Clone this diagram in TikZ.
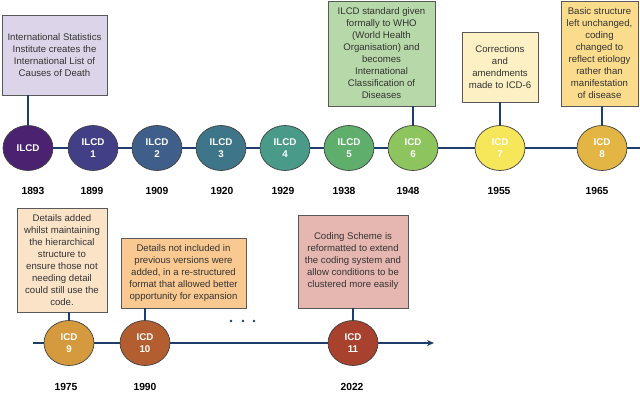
\documentclass[tikz,border=0pt]{standalone}
\usepackage{fontspec}
\setmainfont{Liberation Sans}
\usetikzlibrary{shapes.geometric,arrows.meta}
\definecolor{navy}{HTML}{1F3D6B}
\definecolor{cA}{HTML}{4A2270}
\definecolor{cB}{HTML}{433F86}
\definecolor{cC}{HTML}{3F5F8A}
\definecolor{cD}{HTML}{3E7588}
\definecolor{cE}{HTML}{4A9A8A}
\definecolor{cF}{HTML}{5FAE6B}
\definecolor{cG}{HTML}{8DC45E}
\definecolor{cH}{HTML}{F5E65A}
\definecolor{cI}{HTML}{E2B544}
\definecolor{cJ}{HTML}{D69A3E}
\definecolor{cK}{HTML}{B25E30}
\definecolor{cL}{HTML}{A8412E}
\definecolor{bA}{HTML}{DCD4E8}
\definecolor{bB}{HTML}{B7D8A8}
\definecolor{bC}{HTML}{FDF0C4}
\definecolor{bD}{HTML}{FBDC8C}
\definecolor{bE}{HTML}{FBE3C8}
\definecolor{bF}{HTML}{F9C991}
\definecolor{bG}{HTML}{E6B6B0}
\begin{document}
\begin{tikzpicture}[x=1pt,y=-1pt,
  circ/.style={ellipse,draw=black!75,line width=0.7pt,minimum width=50pt,minimum height=45pt,inner sep=0pt,
    text=white,align=center,font=\fontsize{9.8}{12}\selectfont\bfseries},
  infobox/.style={draw=black!65,line width=0.8pt,inner sep=0pt,align=center,text=black!80,
    font=\fontsize{9.6}{12}\selectfont},
  yr/.style={font=\fontsize{10.3}{12}\selectfont\bfseries,inner sep=0pt},
  tl/.style={draw=navy,line width=1.6pt},
  conn/.style={draw=navy,line width=1.3pt},
  dotm/.style={circle,fill=navy,inner sep=0pt,minimum size=2.8pt}]
\useasboundingbox (0,0) rectangle (640,392);
% top row circles
\node[circ,fill=cA] (c0) at (28,148) {ILCD};
\node[circ,fill=cB] (c1) at (93,148) {ILCD\\1};
\node[circ,fill=cC] (c2) at (157,148) {ILCD\\2};
\node[circ,fill=cD] (c3) at (221,148) {ILCD\\3};
\node[circ,fill=cE] (c4) at (285,148) {ILCD\\4};
\node[circ,fill=cF] (c5) at (349,148) {ILCD\\5};
\node[circ,fill=cG] (c6) at (413,148) {ICD\\6};
\node[circ,fill=cH] (c7) at (500,148) {ICD\\7};
\node[circ,fill=cI] (c8) at (602,148) {ICD\\8};
\coordinate (tend) at (640,148);
% bottom row circles
\node[circ,fill=cJ] (c9) at (69,343) {ICD\\9};
\node[circ,fill=cK] (c10) at (145,343) {ICD\\10};
\node[circ,fill=cL] (c11) at (353,343) {ICD\\11};
\coordinate (bstart) at (33,343);
\coordinate (bend) at (434,343);
% years
\node[yr] (y0) at (33,191) {1893};
\node[yr] (y1) at (92,191) {1899};
\node[yr] (y2) at (157,191) {1909};
\node[yr] (y3) at (222,191) {1920};
\node[yr] (y4) at (283,191) {1929};
\node[yr] (y5) at (344,191) {1938};
\node[yr] (y6) at (408,191) {1948};
\node[yr] (y7) at (499,191) {1955};
\node[yr] (y8) at (597,191) {1965};
\node[yr] (y9) at (66,387) {1975};
\node[yr] (y10) at (145,387) {1990};
\node[yr] (y11) at (352,387) {2022};
% boxes
\node[infobox,fill=bA,minimum width=105pt,minimum height=80pt] (b0) at (54.5,55)
  {International Statistics\\Institute creates the\\International List of\\Causes of Death};
\node[infobox,fill=bB,minimum width=107pt,minimum height=105pt] (b6) at (381.5,53.5)
  {ILCD standard given\\formally to WHO\\(World Health\\Organisation) and\\becomes\\International\\Classification of\\Diseases};
\node[infobox,fill=bC,minimum width=76pt,minimum height=70pt] (b7) at (500,67)
  {Corrections\\and\\amendments\\made to ICD-6};
\node[infobox,fill=bD,minimum width=77pt,minimum height=105pt] (b8) at (599.5,53.5)
  {Basic structure\\left unchanged,\\coding\\changed to\\reflect etiology\\rather than\\manifestation\\of disease};
\node[infobox,fill=bE,minimum width=90pt,minimum height=104pt] (b9) at (62,260)
  {Details added\\whilst maintaining\\the hierarchical\\structure to\\ensure those not\\needing detail\\could still use the\\code.};
\node[infobox,fill=bF,minimum width=125pt,minimum height=70pt] (b10) at (183.5,273)
  {Details not included in\\previous versions were\\added, in a re-structured\\format that allowed better\\opportunity for expansion};
\node[infobox,fill=bG,minimum width=110pt,minimum height=93pt] (b11) at (353,261.5)
  {Coding Scheme is\\reformatted to extend\\the coding system and\\allow conditions to be\\clustered more easily};
% timelines
\draw[tl] (c0) -- (c1) -- (c2) -- (c3) -- (c4) -- (c5) -- (c6) -- (c7) -- (c8) -- (tend);
\draw[tl] (bstart) -- (c9) -- (c10) -- (c11);
\draw[tl,-{Stealth[length=7pt,width=6pt]}] (c11) -- (bend);
% connectors
\draw[conn] (c0.north) -- (c0.north |- b0.south);
\draw[conn] (c6.north) -- (c6.north |- b6.south);
\draw[conn] (c7.north) -- (c7.north |- b7.south);
\draw[conn] (c8.north) -- (c8.north |- b8.south);
\draw[conn] (c9.north) -- (c9.north |- b9.south);
\draw[conn] (c10.north) -- (c10.north |- b10.south);
\draw[conn] (c11.north) -- (c11.north |- b11.south);
% dots
\node[dotm] (d1) at (231,321) {};
\node[dotm] (d2) at (243,321) {};
\node[dotm] (d3) at (254,321) {};
\end{tikzpicture}
\end{document}
